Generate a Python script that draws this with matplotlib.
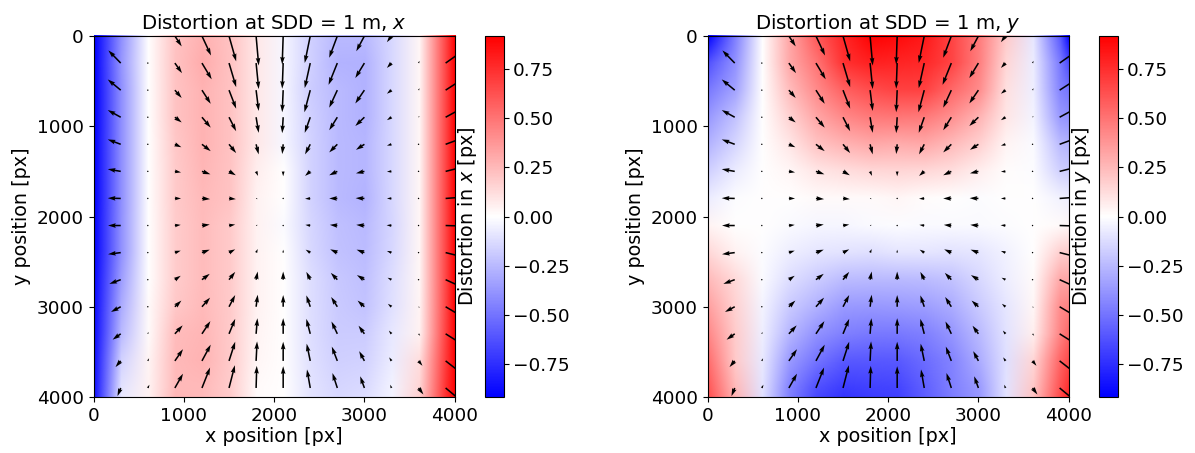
import numpy as np
import matplotlib
matplotlib.use('Agg')
import matplotlib.pyplot as plt
from matplotlib.image import NonUniformImage

plt.rcParams['font.size'] = 13.3

# grid nodes in detector pixels (arrows sit on the first 14, the last one is the edge)
x_nodes = [0, 300, 600, 900, 1200, 1500, 1800, 2100, 2400, 2700, 3000, 3300, 3600, 3900, 4000]
y_nodes = [0, 300, 600, 900, 1200, 1500, 1800, 2100, 2400, 2700, 3000, 3300, 3600, 3900, 4000]

# distortion in x [px], rows follow y_nodes, columns follow x_nodes
dist_x = [
    [-0.92, -0.40, 0.00, 0.21, 0.28, 0.22, 0.08, -0.03, -0.17, -0.25, -0.25, -0.14, 0.03, 0.68, 0.92],
    [-0.92, -0.38, 0.00, 0.22, 0.30, 0.22, 0.08, -0.03, -0.17, -0.27, -0.28, -0.14, 0.03, 0.68, 0.92],
    [-0.92, -0.40, 0.00, 0.21, 0.27, 0.22, 0.08, -0.03, -0.18, -0.25, -0.28, -0.14, 0.03, 0.68, 0.92],
    [-0.92, -0.40, 0.00, 0.21, 0.27, 0.22, 0.08, -0.03, -0.17, -0.25, -0.28, -0.14, 0.03, 0.68, 0.92],
    [-0.91, -0.40, 0.00, 0.20, 0.27, 0.22, 0.08, -0.03, -0.16, -0.25, -0.26, -0.14, 0.03, 0.68, 0.92],
    [-0.91, -0.40, 0.00, 0.19, 0.26, 0.21, 0.06, 0.00, -0.16, -0.25, -0.26, -0.14, 0.03, 0.68, 0.92],
    [-0.91, -0.40, 0.00, 0.19, 0.25, 0.21, 0.05, 0.00, -0.16, -0.25, -0.27, -0.14, 0.03, 0.68, 0.92],
    [-0.90, -0.39, 0.00, 0.18, 0.24, 0.19, 0.05, -0.02, -0.15, -0.23, -0.25, -0.15, 0.03, 0.68, 0.92],
    [-0.90, -0.39, 0.00, 0.18, 0.24, 0.19, 0.05, 0.00, -0.14, -0.22, -0.24, -0.14, 0.03, 0.68, 0.92],
    [-0.89, -0.35, 0.00, 0.18, 0.24, 0.19, 0.05, 0.00, -0.12, -0.20, -0.23, -0.12, 0.03, 0.68, 0.92],
    [-0.88, -0.30, 0.02, 0.20, 0.25, 0.19, 0.05, 0.00, -0.12, -0.19, -0.21, -0.11, 0.04, 0.69, 0.92],
    [-0.87, -0.25, 0.02, 0.24, 0.26, 0.19, 0.04, 0.00, -0.12, -0.18, -0.18, -0.08, 0.05, 0.70, 0.92],
    [-0.86, -0.16, 0.04, 0.25, 0.27, 0.19, 0.03, 0.00, -0.11, -0.17, -0.16, -0.07, 0.12, 0.72, 0.92],
    [-0.85, -0.10, 0.05, 0.25, 0.25, 0.18, 0.02, 0.00, -0.10, -0.15, -0.13, -0.04, 0.15, 0.75, 0.92],
    [-0.85, -0.08, 0.05, 0.26, 0.25, 0.19, 0.02, 0.00, -0.10, -0.14, -0.12, -0.04, 0.17, 0.76, 0.92],
]

# distortion in y [px]
dist_y = [
    [-0.92, -0.46, 0.00, 0.32, 0.60, 0.78, 0.91, 0.88, 0.83, 0.67, 0.47, 0.19, -0.09, -0.60, -0.92],
    [-0.62, -0.39, 0.00, 0.31, 0.50, 0.74, 0.80, 0.79, 0.77, 0.67, 0.46, 0.15, -0.07, -0.48, -0.65],
    [-0.48, -0.33, 0.00, 0.24, 0.42, 0.57, 0.64, 0.68, 0.68, 0.54, 0.41, 0.11, -0.06, -0.44, -0.50],
    [-0.37, -0.22, 0.00, 0.16, 0.32, 0.43, 0.48, 0.49, 0.48, 0.40, 0.27, 0.09, -0.04, -0.37, -0.40],
    [-0.27, -0.15, 0.00, 0.09, 0.21, 0.27, 0.31, 0.30, 0.31, 0.25, 0.17, 0.04, -0.02, -0.25, -0.28],
    [-0.17, -0.07, 0.00, 0.03, 0.09, 0.12, 0.14, 0.15, 0.14, 0.12, 0.06, 0.01, -0.01, -0.17, -0.18],
    [-0.07, -0.01, 0.00, 0.00, 0.02, 0.02, 0.02, 0.03, 0.01, 0.00, -0.01, 0.00, 0.00, -0.05, -0.06],
    [0.04, 0.00, 0.00, -0.02, -0.03, -0.03, -0.02, -0.01, -0.02, -0.02, -0.02, -0.01, 0.00, 0.02, 0.03],
    [0.14, 0.05, -0.01, -0.06, -0.09, -0.10, -0.11, -0.09, -0.09, -0.10, -0.09, -0.05, 0.00, 0.17, 0.18],
    [0.25, 0.13, -0.02, -0.12, -0.18, -0.24, -0.25, -0.25, -0.24, -0.21, -0.14, -0.06, 0.02, 0.31, 0.32],
    [0.34, 0.16, -0.04, -0.19, -0.28, -0.36, -0.37, -0.36, -0.35, -0.30, -0.19, -0.09, 0.03, 0.41, 0.45],
    [0.43, 0.18, -0.06, -0.26, -0.39, -0.46, -0.48, -0.48, -0.46, -0.38, -0.25, -0.10, 0.06, 0.44, 0.55],
    [0.52, 0.19, -0.08, -0.36, -0.50, -0.59, -0.60, -0.59, -0.53, -0.44, -0.30, -0.11, 0.15, 0.56, 0.65],
    [0.60, 0.25, -0.10, -0.44, -0.63, -0.70, -0.68, -0.67, -0.57, -0.46, -0.36, -0.10, 0.20, 0.62, 0.75],
    [0.63, 0.27, -0.11, -0.46, -0.66, -0.73, -0.70, -0.69, -0.58, -0.47, -0.37, -0.10, 0.21, 0.65, 0.80],
]

titles = ['Distortion at SDD = 1 m, $x$', 'Distortion at SDD = 1 m, $y$']
cbar_labels = ['Distortion in $x$ [px]', 'Distortion in $y$ [px]']
cbar_ticks = [-0.75, -0.5, -0.25, 0.0, 0.25, 0.5, 0.75]


def px_rect(left, top, right, bottom, W=1195, H=453):
    '''figure fraction rect from pixel box'''
    return [left / W, 1 - bottom / H, (right - left) / W, (bottom - top) / H]


def main():
    dx = np.array(dist_x)
    dy = np.array(dist_y)
    X, Y = np.meshgrid(x_nodes, y_nodes)
    lim = max(np.abs(dx).max(), np.abs(dy).max())

    fig = plt.figure(figsize=(11.95, 4.53), dpi=100)
    boxes = [(93.3, 36, 455, 397, 485, 503.5), (707.3, 36, 1069, 397, 1099, 1117.5)]

    for field, title, clabel, box in zip([dx, dy], titles, cbar_labels, boxes):
        ax = fig.add_axes(px_rect(box[0], box[1], box[2], box[3]))
        cax = fig.add_axes(px_rect(box[4], box[1], box[5], box[3]))
        im = NonUniformImage(ax, interpolation='bilinear', cmap='bwr',
                             extent=(0, 4000, 0, 4000))
        im.set_clim(-lim, lim)
        im.set_data(x_nodes, y_nodes, field)
        ax.add_image(im)
        ax.quiver(X[:-1, :-1], Y[:-1, :-1], dx[:-1, :-1], dy[:-1, :-1],
                  angles='xy', scale_units='xy', scale=1 / 360.0,
                  color='black')
        ax.set_xlim(0, 4000)
        ax.set_ylim(4000, 0)
        ax.set_aspect('equal')
        ax.set_xticks([0, 1000, 2000, 3000, 4000])
        ax.set_yticks([0, 1000, 2000, 3000, 4000])
        ax.set_title(title, fontsize=14.2, pad=5)
        ax.set_xlabel('x position [px]', fontsize=13.8, labelpad=2)
        ax.set_ylabel('y position [px]', fontsize=13.8, labelpad=4)
        cb = fig.colorbar(im, cax=cax, ticks=cbar_ticks)
        cb.set_label(clabel, fontsize=13.8, labelpad=4)
        cax.yaxis.set_label_position('left')

    fig.savefig('out.png', dpi=100)


if __name__ == '__main__':
    main()
